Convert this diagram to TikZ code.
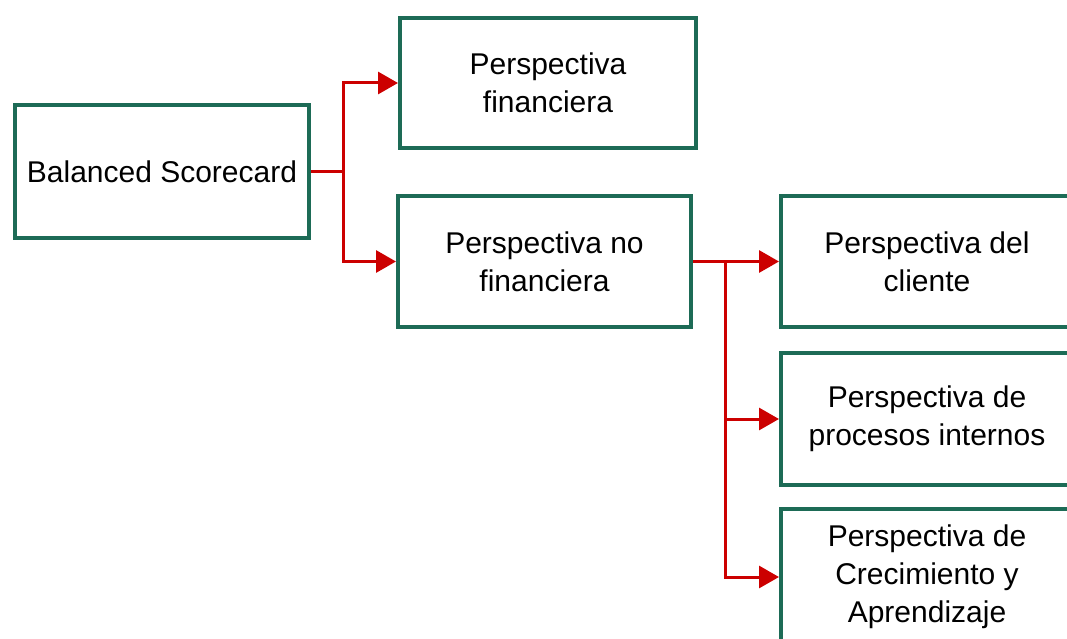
\documentclass[tikz,border=0pt]{standalone}
\usepackage{fontspec}
\setmainfont{Liberation Sans}
\usetikzlibrary{arrows.meta}
\definecolor{boxgreen}{HTML}{1D6B56}
\definecolor{linkred}{HTML}{CC0000}
\tikzset{
  box/.style={draw=boxgreen, line width=4pt, rectangle, inner sep=0pt, align=center,
    font=\fontsize{30}{38}\selectfont},
  link/.style={draw=linkred, line width=3pt, -{Triangle[length=20pt,width=22pt]}},
  trunk/.style={draw=linkred, line width=3pt}
}
\begin{document}
\begin{tikzpicture}[x=1pt,y=-1pt]
\clip (0,0) rectangle (1067,639);
\fill[white] (0,0) rectangle (1067,639);
\node[box, minimum width=294pt, minimum height=133pt] (bsc) at (162,171.5) {Balanced Scorecard};
\node[box, minimum width=296pt, minimum height=130pt] (fin) at (548,83) {Perspectiva\\financiera};
\node[box, minimum width=293pt, minimum height=131pt] (nofin) at (544.5,261.5) {Perspectiva no\\financiera};
\node[box, minimum width=292pt, minimum height=131pt] (cli) at (927,261.5) {Perspectiva del\\cliente};
\node[box, minimum width=292pt, minimum height=132pt] (pro) at (927,419) {Perspectiva de\\procesos internos};
\node[box, minimum width=292pt, minimum height=136pt] (cre) at (927,577) {Perspectiva de\\Crecimiento y\\Aprendizaje};
\coordinate (j1) at ([xshift=32pt]bsc.east);
\coordinate (j2) at ([xshift=32pt]nofin.east);
\draw[trunk] (bsc.east) -- (j1);
\draw[link] (j1) |- (fin.west);
\draw[link] (j1) |- (nofin.west);
\draw[link] (nofin.east) -- (cli.west);
\draw[link] (j2) |- (pro.west);
\draw[link] (j2) |- (cre.west);
\end{tikzpicture}
\end{document}
